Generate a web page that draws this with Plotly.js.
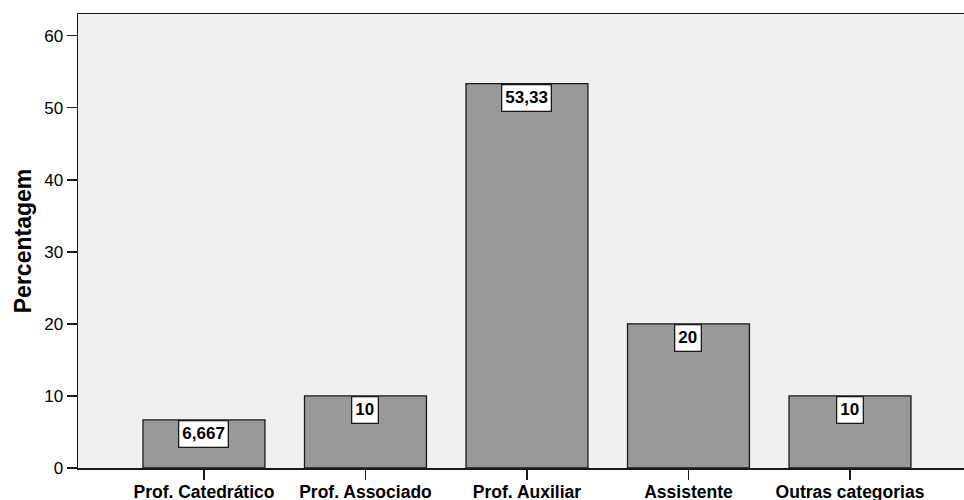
<!DOCTYPE html>
<html>
<head>
<meta charset="utf-8">
<script src="https://cdn.plot.ly/plotly-3.0.1.min.js"></script>
<style>html,body{margin:0;padding:0;background:#fff;}#chart{width:964px;height:500px;}</style>
</head>
<body>
<div id="chart"></div>
<script>
const categories = ["Prof. Catedrático", "Prof. Associado", "Prof. Auxiliar", "Assistente", "Outras categorias"];
const values = [6.667, 10, 53.33, 20, 10];
const valueLabels = ["6,667", "10", "53,33", "20", "10"];
const yTicks = [0, 10, 20, 30, 40, 50, 60];

const trace = {
  type: "bar",
  x: categories,
  y: values,
  width: 0.755,
  marker: {color: "#999999", line: {color: "#1a1a1a", width: 1.3}},
  hoverinfo: "skip"
};

const annotations = categories.map((c, i) => ({
  x: c, y: values[i], xref: "x", yref: "y",
  yanchor: "top", xanchor: "center",
  text: "<b>" + valueLabels[i] + "</b>",
  showarrow: false,
  bgcolor: "#ffffff", bordercolor: "#1a1a1a", borderwidth: 1.3, borderpad: 3,
  font: {family: "Liberation Sans, Arial, sans-serif", size: 17, color: "#000"}
}));

const layout = {
  width: 964, height: 500,
  margin: {l: 78, r: 0, t: 14, b: 32},
  paper_bgcolor: "#ffffff",
  plot_bgcolor: "#f0f0f0",
  showlegend: false,
  xaxis: {
    type: "category",
    range: [-0.78, 4.706],
    showline: true, linecolor: "#1a1a1a", linewidth: 1.5, mirror: true,
    ticks: "outside", ticklen: 10, tickwidth: 1.5, tickcolor: "#1a1a1a",
    ticklabelstandoff: -3,
    showgrid: false, zeroline: false,
    tickfont: {family: "Liberation Sans, Arial, sans-serif", size: 17.5, color: "#000", weight: "bold"}
  },
  yaxis: {
    range: [0, 63],
    tickvals: yTicks,
    ticktext: yTicks.map(String),
    showline: true, linecolor: "#1a1a1a", linewidth: 1.5,
    ticks: "outside", ticklen: 10, tickwidth: 1.5, tickcolor: "#1a1a1a",
    showgrid: false, zeroline: false,
    tickfont: {family: "Liberation Sans, Arial, sans-serif", size: 17, color: "#000"},
    title: {text: "<b>Percentagem</b>", standoff: 6,
      font: {family: "Liberation Sans, Arial, sans-serif", size: 23, color: "#000"}}
  },
  annotations: annotations
};

Plotly.newPlot("chart", [trace], layout, {staticPlot: true, displayModeBar: false});
</script>
</body>
</html>
